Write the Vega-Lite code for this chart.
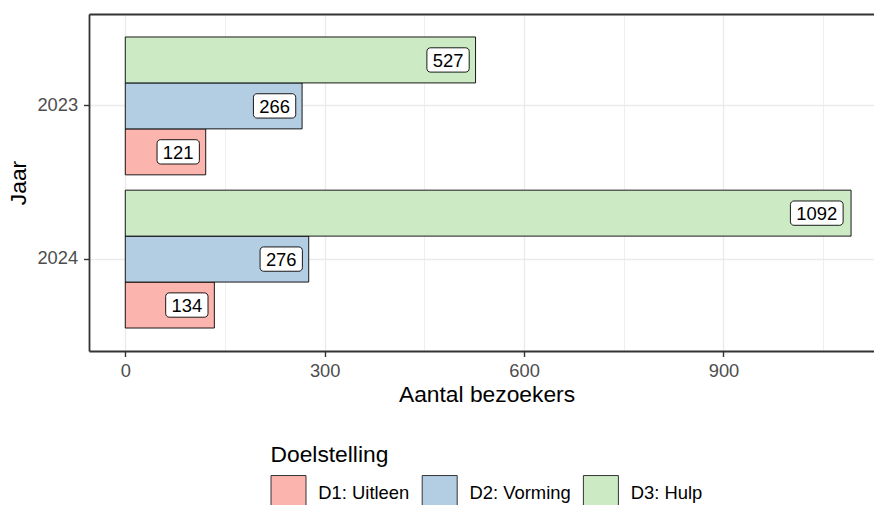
{
  "$schema": "https://vega.github.io/schema/vega-lite/v6.json",
  "width": 785,
  "height": 337,
  "autosize": {"type": "none"},
  "padding": {"left": 89, "top": 14, "right": 0, "bottom": 154},
  "background": "white",
  "config": {
    "view": {"stroke": null},
    "font": "Liberation Sans",
    "axis": {"titleFontWeight": "normal"}
  },
  "data": {
    "values": [
      {"jaar": "2023", "doel": "D1: Uitleen", "aantal": 121},
      {"jaar": "2023", "doel": "D2: Vorming", "aantal": 266},
      {"jaar": "2023", "doel": "D3: Hulp", "aantal": 527},
      {"jaar": "2024", "doel": "D1: Uitleen", "aantal": 134},
      {"jaar": "2024", "doel": "D2: Vorming", "aantal": 276},
      {"jaar": "2024", "doel": "D3: Hulp", "aantal": 1092}
    ]
  },
  "layer": [
    {
      "mark": {"type": "bar", "stroke": "black", "strokeWidth": 0.9},
      "encoding": {
        "y": {
          "field": "jaar", "type": "nominal",
          "scale": {"paddingInner": 0.1, "paddingOuter": 0.15},
          "axis": {
            "title": "Jaar", "orient": "left", "grid": true, "bandPosition": 0.5,
            "gridColor": "#EBEBEB", "gridWidth": 1.4,
            "domainColor": "#333333", "domainWidth": 1.8,
            "tickColor": "#333333", "tickWidth": 1.4, "tickSize": 5.5,
            "labelFontSize": 18.3, "labelColor": "#4D4D4D", "labelPadding": 5.9,
            "titleFontSize": 22.8, "titleColor": "black",
            "titleX": -63.5, "titleY": 168.5, "titleBaseline": "alphabetic",
            "titleAngle": 270, "titleAlign": "center"
          }
        },
        "yOffset": {"field": "doel", "type": "nominal", "sort": "descending", "scale": {"paddingInner": 0, "paddingOuter": 0}},
        "x": {
          "field": "aantal", "type": "quantitative",
          "scale": {"domain": [-54.6, 1126.5], "nice": false, "zero": false},
          "axis": {
            "orient": "bottom", "values": [0, 300, 600, 900], "title": "Aantal bezoekers",
            "grid": true, "gridColor": "#EBEBEB", "gridWidth": 1.4,
            "domainColor": "#333333", "domainWidth": 1.8,
            "tickColor": "#333333", "tickWidth": 1.4, "tickSize": 5.5,
            "labelFontSize": 18.3, "labelColor": "#4D4D4D", "labelPadding": 20.2,
            "labelBaseline": "alphabetic",
            "titleFontSize": 22.8, "titleColor": "black",
            "titleX": 397.5, "titleY": 50.7, "titleBaseline": "alphabetic", "titleAlign": "center"
          }
        },
        "color": {
          "field": "doel", "type": "nominal",
          "scale": {"domain": ["D1: Uitleen", "D2: Vorming", "D3: Hulp"], "range": ["#FBB4AE", "#B3CDE3", "#CCEBC5"]},
          "legend": {
            "orient": "none", "legendX": 181.5, "legendY": 430, "direction": "horizontal",
            "title": "Doelstelling", "titleFontSize": 22.8, "titleFontWeight": "normal", "titleColor": "black",
            "titlePadding": 8, "labelFontSize": 18.4, "labelColor": "black",
            "symbolType": "square", "symbolSize": 1225, "symbolStrokeColor": "#333333", "symbolStrokeWidth": 1,
            "labelOffset": 11.8, "columnPadding": 10.2, "padding": 0
          }
        }
      }
    },
    {
      "transform": [{"filter": "datum.aantal < 1000"}],
      "mark": {"type": "rect", "fill": "white", "stroke": "black", "strokeWidth": 0.9, "cornerRadius": 3.5, "width": 42.3, "height": 24.3, "xOffset": -27.5},
      "encoding": {
        "y": {"field": "jaar", "type": "nominal", "axis": null},
        "yOffset": {"field": "doel", "type": "nominal", "sort": "descending"},
        "x": {
          "field": "aantal", "type": "quantitative",
          "axis": {
            "orient": "top", "values": [150, 450, 750, 1050], "labels": false, "ticks": false, "title": null,
            "grid": true, "gridColor": "#EBEBEB", "gridWidth": 0.8,
            "domainColor": "#333333", "domainWidth": 1.8
          }
        }
      }
    },
    {
      "transform": [{"filter": "datum.aantal >= 1000"}],
      "mark": {"type": "rect", "fill": "white", "stroke": "black", "strokeWidth": 0.9, "cornerRadius": 3.5, "width": 52.7, "height": 24.3, "xOffset": -34.3},
      "encoding": {
        "y": {"field": "jaar", "type": "nominal", "axis": null},
        "yOffset": {"field": "doel", "type": "nominal", "sort": "descending"},
        "x": {"field": "aantal", "type": "quantitative", "axis": null}
      }
    },
    {
      "transform": [{"filter": "datum.aantal < 1000"}],
      "mark": {"type": "text", "align": "center", "baseline": "middle", "dx": -27.5, "dy": 1, "fontSize": 18.4, "color": "black"},
      "encoding": {
        "y": {"field": "jaar", "type": "nominal", "axis": null},
        "yOffset": {"field": "doel", "type": "nominal", "sort": "descending"},
        "x": {"field": "aantal", "type": "quantitative", "axis": null},
        "text": {"field": "aantal", "type": "quantitative"}
      }
    },
    {
      "transform": [{"filter": "datum.aantal >= 1000"}],
      "mark": {"type": "text", "align": "center", "baseline": "middle", "dx": -34.3, "dy": 1, "fontSize": 18.4, "color": "black"},
      "encoding": {
        "y": {"field": "jaar", "type": "nominal", "axis": null},
        "yOffset": {"field": "doel", "type": "nominal", "sort": "descending"},
        "x": {"field": "aantal", "type": "quantitative", "axis": null},
        "text": {"field": "aantal", "type": "quantitative", "format": "d"}
      }
    }
  ],
  "resolve": {"axis": {"x": "independent", "y": "independent"}}
}
